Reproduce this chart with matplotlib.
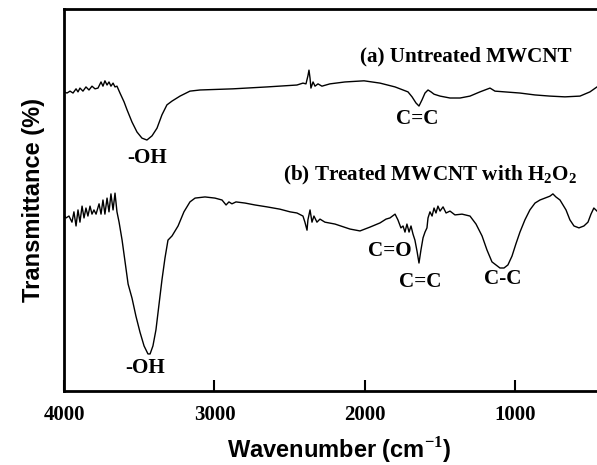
import matplotlib
matplotlib.use("Agg")
import matplotlib.pyplot as plt

# FTIR spectra (wavenumber in cm-1, transmittance in arbitrary %)
WN_A = [4000, 3980, 3960, 3940, 3920, 3907, 3894, 3874, 3854, 3834, 3814, 3794, 3774,
        3754, 3741, 3728, 3714, 3701, 3688, 3674, 3661, 3648, 3628, 3601, 3581, 3548,
        3515, 3482, 3449, 3415, 3382, 3349, 3316, 3282, 3229, 3163, 3096, 2877, 2651,
        2452, 2412, 2392, 2379, 2372, 2365, 2359, 2345, 2332, 2312, 2286, 2233, 2133,
        2006, 1900, 1800, 1747, 1714, 1687, 1661, 1641, 1621, 1601, 1581, 1561, 1541,
        1501, 1435, 1368, 1302, 1236, 1169, 1136, 1070, 970, 870, 771, 671, 571, 505, 458]
T_A = [78.3, 78.0, 78.5, 78.0, 79.1, 78.3, 79.3, 78.5, 79.6, 78.8, 79.8, 79.1, 79.3,
       80.9, 79.8, 81.2, 80.1, 80.9, 79.8, 80.6, 79.6, 79.8, 78.0, 75.7, 73.6, 70.4,
       67.8, 66.2, 65.7, 66.8, 68.8, 72.3, 74.9, 75.9, 77.2, 78.5, 78.8, 79.1, 79.6,
       80.1, 80.6, 80.4, 82.5, 84.0, 81.9, 79.3, 80.9, 79.8, 80.4, 79.8, 80.4, 80.9,
       81.2, 80.6, 79.6, 78.8, 78.3, 77.0, 75.4, 74.6, 76.2, 78.0, 78.8, 78.3, 77.7,
       77.2, 76.7, 76.7, 77.2, 78.3, 79.3, 78.5, 78.3, 78.0, 77.5, 77.2, 77.0, 77.2, 78.3, 79.6]

WN_B = [4000, 3987, 3967, 3947, 3934, 3920, 3907, 3894, 3880, 3867, 3854, 3841, 3827,
        3814, 3801, 3787, 3767, 3754, 3741, 3728, 3714, 3701, 3688, 3674, 3661, 3648,
        3634, 3614, 3594, 3574, 3548, 3522, 3495, 3468, 3442, 3428, 3409, 3389, 3369,
        3349, 3329, 3309, 3282, 3242, 3203, 3163, 3129, 3063, 2997, 2950, 2923, 2904,
        2884, 2857, 2797, 2731, 2651, 2565, 2498, 2452, 2412, 2399, 2385, 2379, 2365,
        2352, 2339, 2319, 2299, 2266, 2199, 2100, 2033, 1967, 1900, 1860, 1834, 1800,
        1781, 1761, 1747, 1734, 1721, 1707, 1694, 1681, 1668, 1654, 1641, 1628, 1614,
        1601, 1588, 1581, 1568, 1554, 1541, 1528, 1515, 1501, 1481, 1461, 1435, 1402,
        1355, 1302, 1262, 1222, 1189, 1156, 1129, 1103, 1076, 1050, 1023, 997, 970,
        937, 904, 870, 837, 804, 771, 751, 731, 704, 684, 664, 638, 611, 578, 545,
        518, 498, 479, 458]
T_B = [46.1, 45.3, 45.8, 44.2, 46.9, 43.2, 47.4, 44.2, 48.4, 45.3, 47.9, 45.8, 48.4,
       46.3, 47.4, 46.3, 49.0, 46.3, 50.0, 46.3, 50.5, 46.9, 51.6, 47.4, 51.8, 46.9,
       44.2, 39.5, 33.8, 28.0, 24.3, 19.6, 15.4, 11.8, 9.7, 9.7, 11.8, 16.0, 22.5,
       29.1, 34.8, 39.5, 40.6, 43.2, 46.9, 49.5, 50.5, 50.8, 50.5, 50.0, 48.7, 49.5,
       49.0, 49.5, 49.2, 48.7, 48.2, 47.6, 46.9, 46.6, 45.8, 44.2, 42.1, 44.8, 47.4,
       44.2, 45.8, 44.2, 45.0, 44.2, 43.7, 42.4, 41.9, 42.9, 44.0, 45.0, 45.3, 46.3,
       44.8, 42.7, 43.2, 41.6, 43.7, 41.6, 43.2, 41.1, 39.5, 36.6, 33.5, 36.9, 40.1,
       41.6, 42.7, 45.3, 46.9, 45.8, 47.9, 46.6, 48.4, 47.1, 48.2, 46.6, 47.1, 46.1,
       46.3, 45.8, 43.7, 40.6, 36.9, 33.8, 33.0, 32.2, 32.2, 33.0, 35.3, 38.5, 41.6,
       44.8, 47.4, 49.2, 50.0, 50.5, 51.0, 51.6, 50.8, 50.0, 48.7, 47.4, 44.8, 43.2, 42.7, 43.2,
       44.2, 46.3, 47.9, 47.1]

LABEL_A = "(a) Untreated MWCNT"
LABEL_B = "(b) Treated MWCNT with H$_\\mathbf{2}$O$_\\mathbf{2}$"

# (text, wavenumber, transmittance)
PEAKS = [("-OH", 3450, 61.0), ("C=C", 1650, 71.2),
         ("-OH", 3460, 6.0), ("C=O", 1834, 36.7), ("C=C", 1634, 28.5), ("C-C", 1085, 29.3)]

X_TICKS = [4000, 3000, 2000, 1000]


def main():
    plt.rcParams['mathtext.fontset'] = 'custom'
    plt.rcParams['mathtext.rm'] = 'Liberation Serif'
    plt.rcParams['mathtext.bf'] = 'Liberation Serif:bold'

    fig = plt.figure(figsize=(5.97, 4.65), dpi=100)
    ax = fig.add_axes([64 / 597, 74 / 465, 533 / 597, 382 / 465])

    ax.plot(WN_A, T_A, color='black', lw=1.0)
    ax.plot(WN_B, T_B, color='black', lw=1.0)

    ax.set_xlim(4000, 458)
    ax.set_ylim(0, 100)

    serif = dict(family='Liberation Serif', fontweight='bold', fontsize=15.2)
    ax.text(2033, 87.5, LABEL_A, ha='left', va='center', **serif)
    ax.text(2545, 56.3, LABEL_B, ha='left', va='center', **serif)
    for txt, x, y in PEAKS:
        ax.text(x, y, txt, ha='center', va='center', **serif)

    ax.set_xticks(X_TICKS)
    ax.set_xticklabels([str(t) for t in X_TICKS], family='Liberation Serif',
                       fontweight='bold', fontsize=15)
    ax.tick_params(axis='x', direction='in', length=8, width=1.5, pad=10)
    ax.set_yticks([])

    for side in ['left', 'bottom', 'top']:
        ax.spines[side].set_linewidth(2)
    ax.spines['right'].set_visible(False)

    ax.set_xlabel("Wavenumber (cm$^{\\mathbf{-1}}$)", family='Liberation Sans',
                  fontweight='bold', fontsize=17)
    ax.xaxis.label.set_va('baseline')
    ax.xaxis.set_label_coords(0.516, -0.178)
    ax.set_ylabel("Transmittance (%)", family='Liberation Sans',
                  fontweight='bold', fontsize=17, labelpad=14)

    fig.savefig("out.png", dpi=100)
    plt.close(fig)


main()
